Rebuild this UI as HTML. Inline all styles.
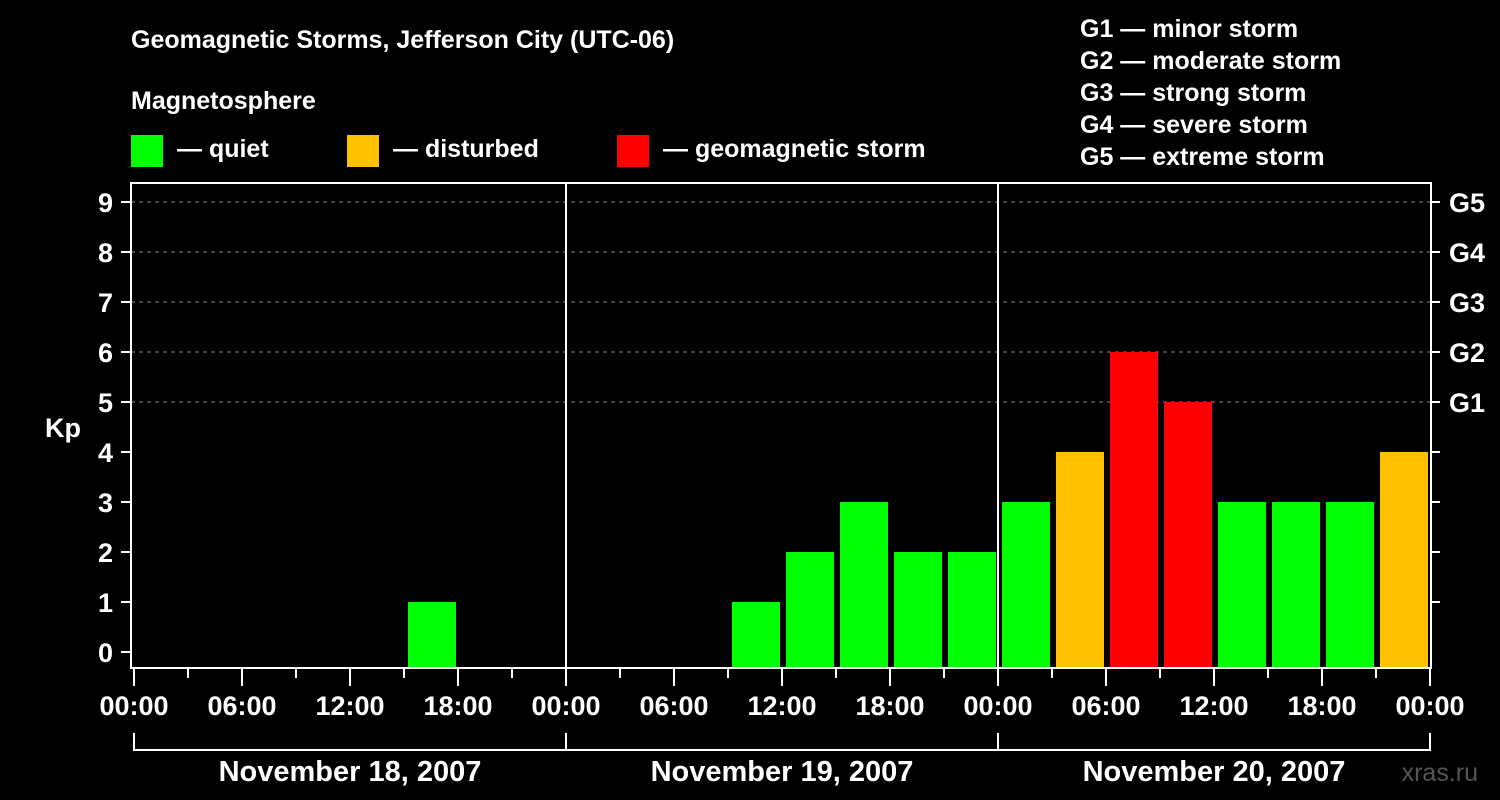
<!DOCTYPE html>
<html><head><meta charset="utf-8">
<style>
html,body{margin:0;padding:0;background:#000;}
svg{display:block;font-family:"Liberation Sans",Arial,sans-serif;font-weight:bold;}
</style></head>
<body>
<svg id="chart" width="1500" height="800" viewBox="0 0 1500 800">
<rect width="1500" height="800" fill="#000"/>
<text x="131" y="48" fill="#fff" font-size="25">Geomagnetic Storms, Jefferson City (UTC-06)</text>
<text x="131" y="109" fill="#fff" font-size="25">Magnetosphere</text>
<g>
<rect x="131" y="135" width="32" height="32" fill="#00ff00"/>
<text x="177" y="157" fill="#fff" font-size="25">— quiet</text></g>
<g>
<rect x="347" y="135" width="32" height="32" fill="#ffc000"/>
<text x="393" y="157" fill="#fff" font-size="25">— disturbed</text></g>
<g>
<rect x="617" y="135" width="32" height="32" fill="#ff0000"/>
<text x="663" y="157" fill="#fff" font-size="25">— geomagnetic storm</text></g>
<g fill="#fff" font-size="25">
<text x="1080" y="37">G1 — minor storm</text>
<text x="1080" y="69">G2 — moderate storm</text>
<text x="1080" y="101">G3 — strong storm</text>
<text x="1080" y="133">G4 — severe storm</text>
<text x="1080" y="165">G5 — extreme storm</text>
</g>
<text x="63" y="437" fill="#fff" font-size="27" text-anchor="middle">Kp</text>
<text x="1478" y="781" fill="#555" font-size="25" text-anchor="end" font-weight="normal">xras.ru</text>
<g id="grid"></g><g id="bars"></g><g id="axes"></g>
</svg>
<script>
const days = ["November 18, 2007","November 19, 2007","November 20, 2007"];
const kpDay1 = [0,0,0,0,0,1,0,0];
const kpDay2 = [0,0,0,1,2,3,2,2];
const kpDay3 = [3,4,6,5,3,3,3,4];
const yTicks = [0,1,2,3,4,5,6,7,8,9];
const gLabels = ["G1","G2","G3","G4","G5"];
const gLevels = [5,6,7,8,9];
const timeLabels = ["00:00","06:00","12:00","18:00"];

const NS="http://www.w3.org/2000/svg";
const X0=134, DAYW=432, SLOT=54, BOTTOM=668, TOP=183, RIGHT=1430;
const y=v=>652-v*50;
const x=h=>X0+h*(DAYW/24);
function mk(tag,attrs,parent){const e=document.createElementNS(NS,tag);for(const k in attrs)e.setAttribute(k,attrs[k]);parent.appendChild(e);return e;}
const grid=document.getElementById('grid'),bars=document.getElementById('bars'),axes=document.getElementById('axes');

gLevels.forEach((v,i)=>{
  const l=mk('line',{x1:131,x2:RIGHT,y1:y(v),y2:y(v),stroke:'#888','stroke-dasharray':'4,4','stroke-width':1},grid);
  
  
  const t=mk('line',{x1:RIGHT,x2:RIGHT+10,y1:y(v),y2:y(v),stroke:'#fff','stroke-width':2},axes);
  
  
  const tx=mk('text',{x:1449,y:y(v)+10,fill:'#fff','font-size':27},axes);
  tx.textContent=gLabels[i];
  
  
});
[1,2,3,4].forEach(v=>{
  const t=mk('line',{x1:RIGHT,x2:RIGHT+10,y1:y(v),y2:y(v),stroke:'#fff','stroke-width':2},axes);
  
  
});

const all=[kpDay1,kpDay2,kpDay3];
all.forEach((arr,d)=>{arr.forEach((v,s)=>{
  if(v<=0)return;
  const col=v>=5?'#ff0000':(v>=4?'#ffc000':'#00ff00');
  const bx=X0+d*DAYW+s*SLOT+4;
  const r=mk('rect',{x:bx,y:y(v),width:48,height:BOTTOM-y(v),fill:col},bars);
  
  
});});

// frame
const fr=mk('path',{d:`M131 ${TOP} H${RIGHT+1} V${BOTTOM} H131 Z`,fill:'none',stroke:'#fff','stroke-width':2},axes);


[1,2].forEach(d=>{
  const l=mk('line',{x1:X0+d*DAYW,x2:X0+d*DAYW,y1:TOP,y2:BOTTOM,stroke:'#fff','stroke-width':2},axes);
  
  
});
yTicks.forEach(v=>{
  const t=mk('line',{x1:121,x2:131,y1:y(v),y2:y(v),stroke:'#fff','stroke-width':2},axes);
  
  
  const tx=mk('text',{x:113,y:y(v)+10,fill:'#fff','font-size':27,'text-anchor':'end'},axes);
  tx.textContent=String(v);
  
  
});
for(let h=0;h<=72;h+=3){
  const major=h%6===0;
  const t=mk('line',{x1:x(h),x2:x(h),y1:BOTTOM,y2:major?686:678,stroke:'#fff','stroke-width':2},axes);
  
  
  if(major){
    const tx=mk('text',{x:x(h),y:715,fill:'#fff','font-size':27,'text-anchor':'middle'},axes);
    tx.textContent=timeLabels[(h/6)%4];
    
    
  }
}
const br=mk('line',{x1:X0,x2:RIGHT,y1:750,y2:750,stroke:'#fff','stroke-width':2},axes);


for(let d=0;d<=3;d++){
  const l=mk('line',{x1:X0+d*DAYW,x2:X0+d*DAYW,y1:733,y2:751,stroke:'#fff','stroke-width':2},axes);
  
  
}
days.forEach((dl,d)=>{
  const tx=mk('text',{x:X0+d*DAYW+DAYW/2,y:781,fill:'#fff','font-size':29,'text-anchor':'middle'},axes);
  tx.textContent=dl;
  
  
});
</script>
</body></html>
